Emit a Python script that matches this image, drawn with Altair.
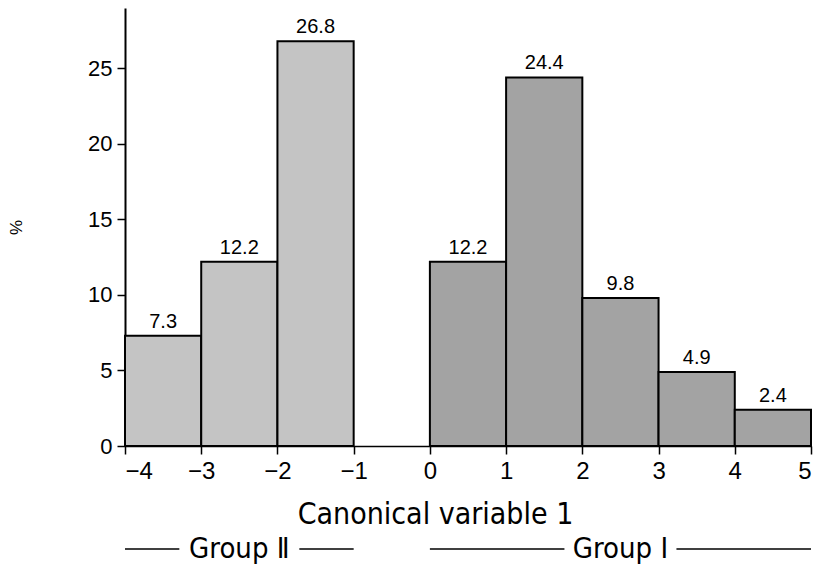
import altair as alt
import pandas as pd

# Histogram data
bin_start = [-4, -3, -2, 0, 1, 2, 3, 4]
bin_end = [-3, -2, -1, 1, 2, 3, 4, 5]
percent = [7.3, 12.2, 26.8, 12.2, 24.4, 9.8, 4.9, 2.4]
group = ["II", "II", "II", "I", "I", "I", "I", "I"]

x_ticks = [-4, -3, -2, -1, 0, 1, 2, 3, 4, 5]
y_ticks = [0, 5, 10, 15, 20, 25]

group_names = ["Group \u2161", "Group \u2160"]
group_start = [-4, 0]
group_end = [-1, 5]

df = pd.DataFrame({"x0": bin_start, "x1": bin_end, "pct": percent, "grp": group})
df["mid"] = (df["x0"] + df["x1"]) / 2
df["lab"] = df["pct"].map(lambda v: f"{v:.1f}")

FONT = "Liberation Sans"
NARROW = "DejaVu Sans Condensed, Liberation Sans Narrow, Liberation Sans"
W, H = 686, 438
px_per_unit = W / 9.0
half_w = [60 / px_per_unit, 56 / px_per_unit]

gdf = pd.DataFrame({"name": group_names, "s": group_start, "e": group_end})
gdf["c"] = (gdf["s"] + gdf["e"]) / 2
seg_rows = []
for i, r in gdf.iterrows():
    seg_rows.append({"a": r["s"], "b": r["c"] - half_w[i]})
    seg_rows.append({"a": r["c"] + half_w[i], "b": r["e"]})
sdf = pd.DataFrame(seg_rows)

xscale = alt.Scale(domain=[-4, 5], nice=False, zero=False)
yscale = alt.Scale(domain=[0, 29], nice=False)

bars = alt.Chart(df).mark_rect(stroke="black", strokeWidth=2).encode(
    x=alt.X("x0:Q", scale=xscale,
            axis=alt.Axis(values=x_ticks, format="d", title="Canonical variable 1", grid=False,
                          domainColor="black", domainWidth=1.5, tickColor="black",
                          tickWidth=1.5, tickSize=8, labelFontSize=24, labelFont=FONT,
                          labelColor="black", labelPadding=5, titleFont=NARROW,
                          titleFontSize=30, titleFontWeight="normal", titleColor="black",
                          titlePadding=16, titleX=310)),
    x2="x1:Q",
    y=alt.Y("pct:Q", scale=yscale,
            axis=alt.Axis(values=y_ticks, title="%", grid=False, domainColor="black",
                          domainWidth=2, tickColor="black", tickWidth=1.5, tickSize=8,
                          labelFontSize=22, labelFont=FONT, labelColor="black",
                          labelPadding=5, titleFont=FONT, titleFontSize=17,
                          titleFontWeight="normal", titleColor="black", titleX=-100)),
    y2=alt.datum(0),
    fill=alt.Fill("grp:N", scale=alt.Scale(domain=["II", "I"], range=["#c4c4c4", "#a3a3a3"]),
                  legend=None),
)

labels = alt.Chart(df).mark_text(dy=-14, fontSize=20, font=FONT, color="black").encode(
    x=alt.X("mid:Q", scale=xscale),
    y=alt.Y("pct:Q", scale=yscale),
    text="lab:N",
)

gtext = alt.Chart(gdf).mark_text(fontSize=29, font=NARROW, color="black", baseline="middle").encode(
    x=alt.X("c:Q", scale=xscale),
    y=alt.value(541),
    text="name:N",
)

grules = alt.Chart(sdf).mark_rule(color="black", strokeWidth=1.5).encode(
    x=alt.X("a:Q", scale=xscale),
    x2="b:Q",
    y=alt.value(541),
)

chart = alt.layer(bars, labels, grules, gtext).properties(
    width=W, height=H,
    autosize=alt.AutoSizeParams(type="none"),
    padding={"left": 125, "top": 8, "right": 12, "bottom": 118},
).configure(background="white").configure_view(stroke=None)

chart.save("out.html", embed_options={"renderer": "svg", "actions": False})
